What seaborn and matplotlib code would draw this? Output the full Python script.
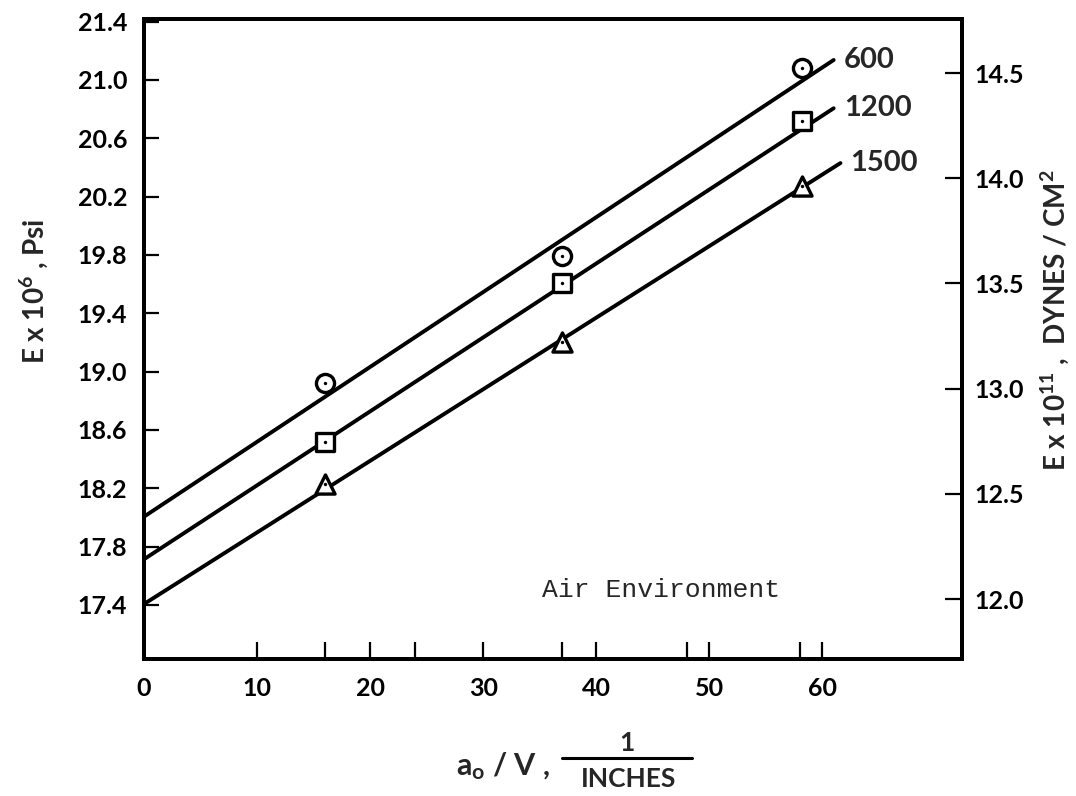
import matplotlib
matplotlib.use("Agg")
import matplotlib.pyplot as plt
from matplotlib.lines import Line2D
import seaborn as sns
import pandas as pd

# ---- data ----
series = ["600", "1200", "1500"]
x_points = [16, 37, 58.2]
y_600 = [18.92, 19.79, 21.08]
y_1200 = [18.52, 19.61, 20.72]
y_1500 = [18.23, 19.20, 20.27]

# fitted straight lines (end points)
line_x_600 = [0, 61.0]
line_y_600 = [18.005, 21.137]
line_x_1200 = [0, 61.0]
line_y_1200 = [17.713, 20.806]
line_x_1500 = [0, 61.6]
line_y_1500 = [17.406, 20.43]

x_ticks = [0, 10, 16, 20, 24, 30, 37, 40, 48, 50, 58, 60]
x_ticklabels = ["0", "10", "", "20", "", "30", "", "40", "", "50", "", "60"]
y_ticks = [17.4, 17.8, 18.2, 18.6, 19.0, 19.4, 19.8, 20.2, 20.6, 21.0, 21.4]
y_ticklabels = ["17.4", "17.8", "18.2", "18.6", "19.0", "19.4", "19.8", "20.2", "20.6", "21.0", "21.4"]
y2_ticks = [12.0, 12.5, 13.0, 13.5, 14.0, 14.5]
y2_ticklabels = ["12.0", "12.5", "13.0", "13.5", "14.0", "14.5"]

sns.set_style("ticks")
plt.rcParams["font.family"] = ["Lato", "DejaVu Sans"]
plt.rcParams["mathtext.fontset"] = "custom"
plt.rcParams["mathtext.rm"] = "Lato:bold"
plt.rcParams["mathtext.it"] = "Lato:bold"

W, H = 1076, 796
fig = plt.figure(figsize=(W / 100, H / 100), dpi=100)
L, R, T, B = 144, 962, 19, 659
ax = fig.add_axes([L / W, 1 - B / H, (R - L) / W, (B - T) / H])

markers = {"600": "o", "1200": "s", "1500": "^"}
sizes = {"600": 170, "1200": 150, "1500": 190}
ys = {"600": y_600, "1200": y_1200, "1500": y_1500}
lines = {"600": (line_x_600, line_y_600),
         "1200": (line_x_1200, line_y_1200),
         "1500": (line_x_1500, line_y_1500)}

for s in series:
    lx, ly = lines[s]
    sns.lineplot(x=lx, y=ly, ax=ax, color="black", linewidth=2.8,
                 sort=False, estimator=None, zorder=2)
    df = pd.DataFrame({"x": x_points, "y": ys[s]})
    sns.scatterplot(data=df, x="x", y="y", ax=ax, marker=markers[s],
                    s=sizes[s], facecolor="white", edgecolor="black",
                    linewidth=2.4, zorder=3)
    sns.scatterplot(data=df, x="x", y="y", ax=ax, marker="o", s=6,
                    color="black", edgecolor="black", linewidth=0, zorder=4)
    ax.text(lx[-1] + 0.9, ly[-1], s, fontsize=21, fontweight="bold",
            ha="left", va="center")

ax.set_xlim(0, 72.35)
ax.set_ylim(17.029, 21.418)
ax.set_xticks(x_ticks)
ax.set_xticklabels(x_ticklabels)
ax.set_yticks(y_ticks)
ax.set_yticklabels(y_ticklabels)
ax.set_xlabel("")
ax.set_ylabel("")
ax.tick_params(axis="x", direction="in", length=12, width=1.6, pad=13,
               labelsize=18, colors="black")
ax.tick_params(axis="y", direction="in", length=11, width=1.6, pad=12,
               labelsize=18, colors="black")
for sp in ax.spines.values():
    sp.set_linewidth(2.8)
    sp.set_color("black")

ax2 = ax.twinx()
ax2.set_ylim(11.715, 14.757)
ax2.set_yticks(y2_ticks)
ax2.set_yticklabels(y2_ticklabels)
ax2.tick_params(axis="y", direction="in", length=12, width=1.6, pad=9,
                labelsize=18, colors="black")
for sp in ax2.spines.values():
    sp.set_linewidth(2.8)
    sp.set_color("black")

for lab in ax.get_xticklabels() + ax.get_yticklabels() + ax2.get_yticklabels():
    lab.set_fontweight("bold")

ax.text(45.7, 17.50, "Air Environment", fontsize=19,
        family=["Liberation Mono", "DejaVu Sans Mono"], ha="center", va="center")

# axis titles
fig.text(34 / W, 1 - 291 / H, r"E x 10$^{6}$ , Psi", rotation=90,
         fontsize=20, fontweight="bold", ha="center", va="center")
fig.text(1055 / W, 1 - 320 / H, r"E x 10$^{11}$ ,  DYNES / CM$^{2}$",
         rotation=90, fontsize=20, fontweight="bold", ha="center", va="center")

fig.text(503 / W, 1 - 766 / H, r"a$_{\mathrm{o}}$ / V ,", fontsize=22,
         fontweight="bold", ha="center", va="center")
fig.text(627 / W, 1 - 743 / H, "1", fontsize=19, fontweight="bold",
         ha="center", va="center")
fig.text(629 / W, 1 - 779 / H, "INCHES", fontsize=19, fontweight="bold",
         ha="center", va="center")
fig.add_artist(Line2D([562 / W, 692 / W], [1 - 758 / H, 1 - 758 / H],
                      color="black", linewidth=2.2, transform=fig.transFigure))

fig.savefig("out.png", dpi=100, facecolor="white")
